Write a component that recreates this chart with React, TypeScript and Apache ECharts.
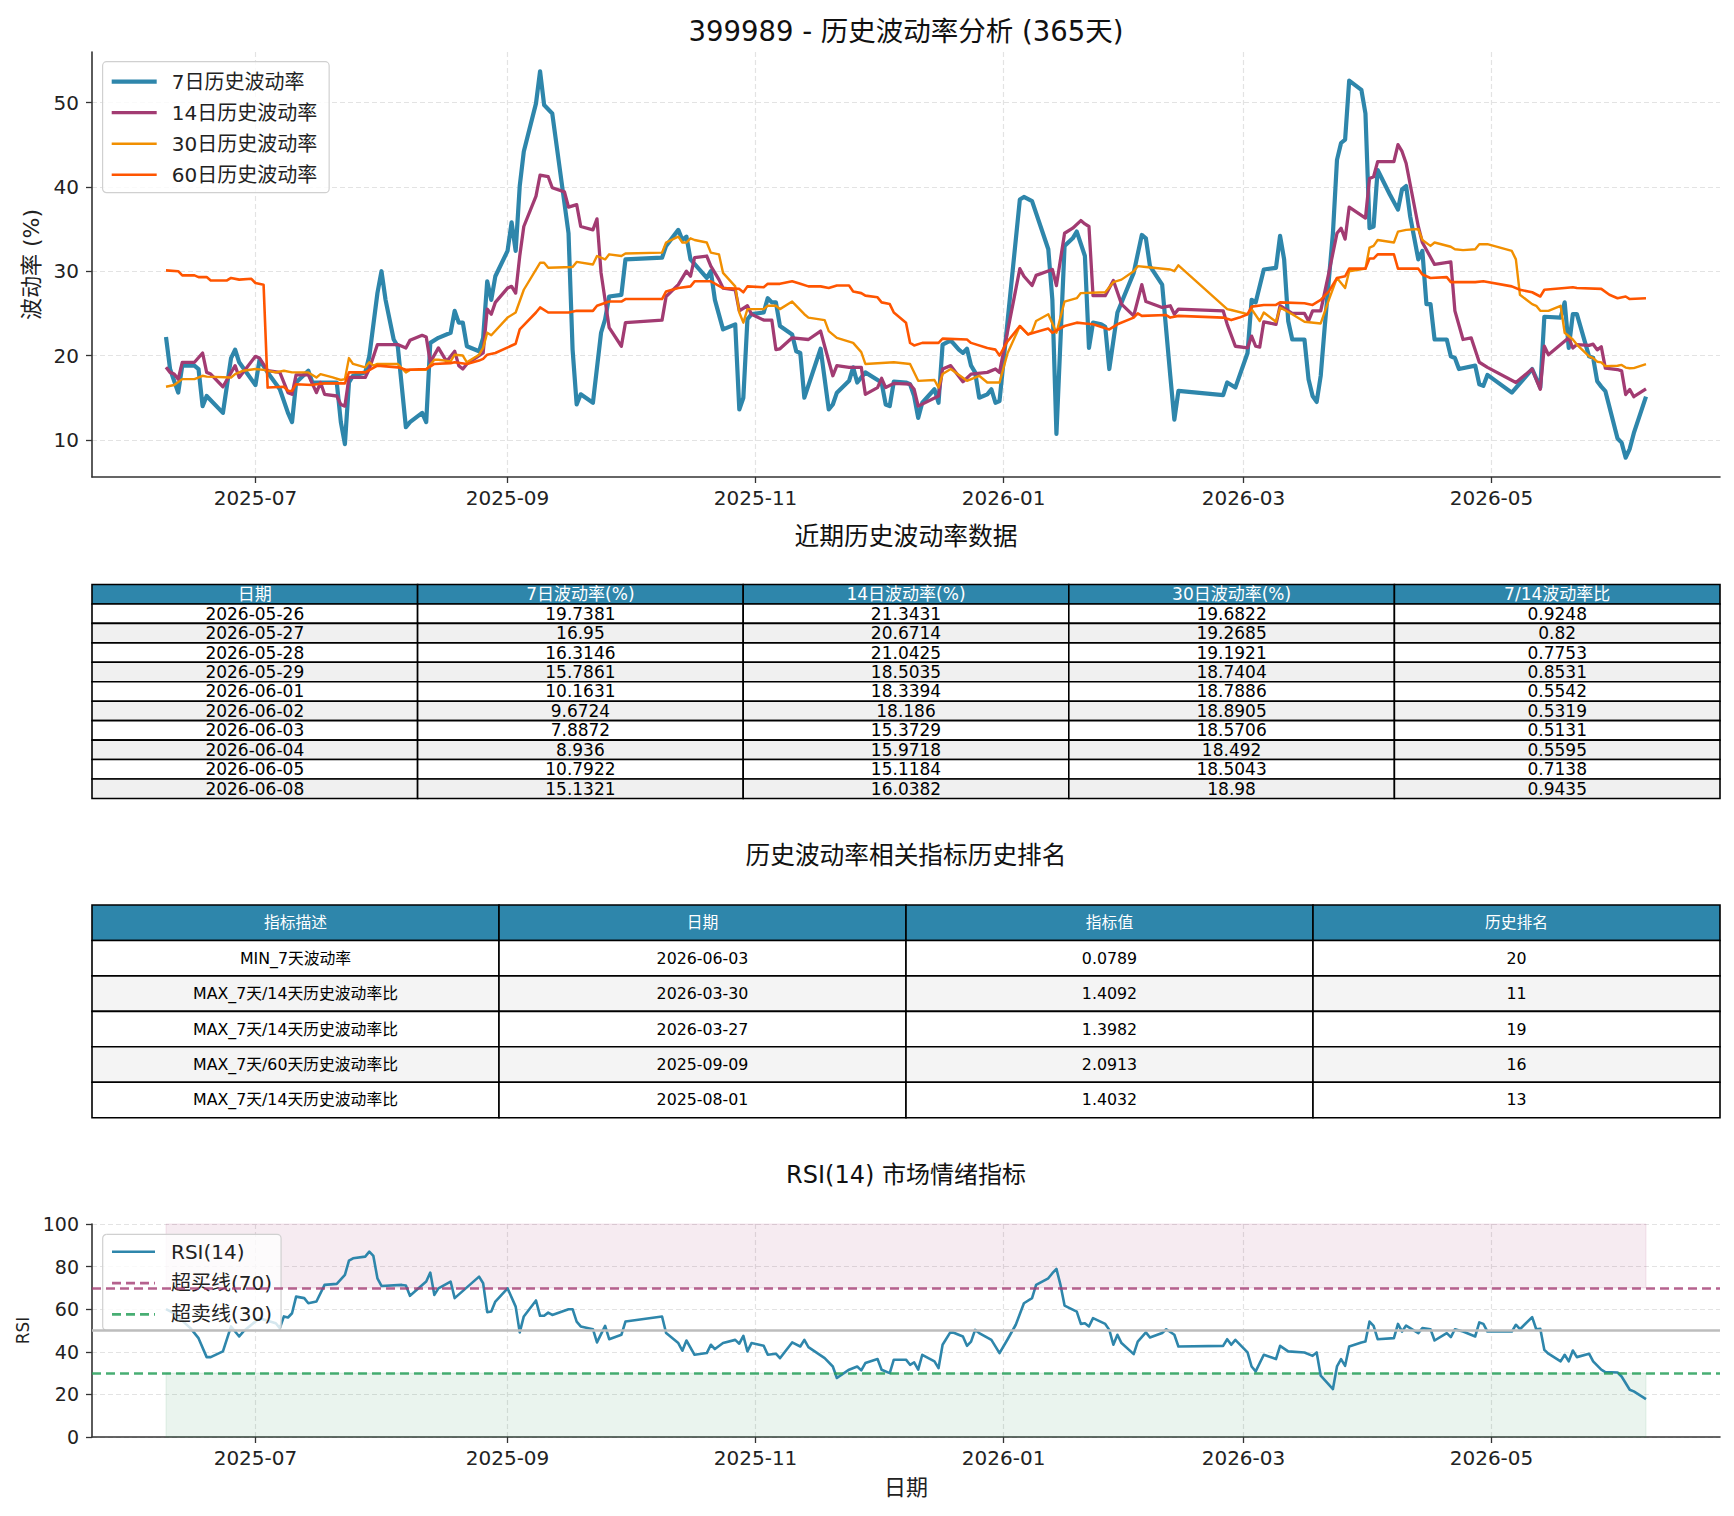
import React, { useEffect, useRef } from 'react';
import * as echarts from 'echarts';

type Pt = [string, number];

const FONT = "'DejaVu Sans', 'Noto Sans CJK SC', sans-serif";
const PAGE_W = 1734;
const PAGE_H = 1516;

const C_BLUE = '#2E86AB';
const C_PURPLE = '#A23B72';
const C_ORANGE = '#F18F01';
const C_RED = '#FF5500';
const C_AXIS = '#333333';
const C_TEXT = '#222222';

// ---- tick labels ----
const monthTicks = ['2025-07-01', '2025-09-01', '2025-11-01', '2026-01-01', '2026-03-01', '2026-05-01'];
const volTicks = [10, 20, 30, 40, 50];

// ---- recent volatility table ----
const recentHeader = ['日期', '7日波动率(%)', '14日波动率(%)', '30日波动率(%)', '7/14波动率比'];
const recentDates = ['2026-05-26', '2026-05-27', '2026-05-28', '2026-05-29', '2026-06-01', '2026-06-02', '2026-06-03', '2026-06-04', '2026-06-05', '2026-06-08'];
const recentVol7 = [19.7381, 16.95, 16.3146, 15.7861, 10.1631, 9.6724, 7.8872, 8.936, 10.7922, 15.1321];
const recentVol14 = [21.3431, 20.6714, 21.0425, 18.5035, 18.3394, 18.186, 15.3729, 15.9718, 15.1184, 16.0382];
const recentVol30 = [19.6822, 19.2685, 19.1921, 18.7404, 18.7886, 18.8905, 18.5706, 18.492, 18.5043, 18.98];
const recentRatio = [0.9248, 0.82, 0.7753, 0.8531, 0.5542, 0.5319, 0.5131, 0.5595, 0.7138, 0.9435];

// ---- ranking table ----
const rankHeader = ['指标描述', '日期', '指标值', '历史排名'];
const rankDesc = ['MIN_7天波动率', 'MAX_7天/14天历史波动率比', 'MAX_7天/14天历史波动率比', 'MAX_7天/60天历史波动率比', 'MAX_7天/14天历史波动率比'];
const rankDates = ['2026-06-03', '2026-03-30', '2026-03-27', '2025-09-09', '2025-08-01'];
const rankValues = [0.0789, 1.4092, 1.3982, 2.0913, 1.4032];
const rankPositions = [20, 11, 19, 16, 13];

// ---- 7-day volatility (before the recent table window) ----
const vol7Early: Pt[] = [
  ['2025-06-09', 22.2], ['2025-06-10', 18.4], ['2025-06-12', 15.6], ['2025-06-13', 18.8], ['2025-06-16', 18.8],
  ['2025-06-17', 18.4], ['2025-06-18', 14.0], ['2025-06-19', 15.2], ['2025-06-23', 13.2], ['2025-06-25', 19.7],
  ['2025-06-26', 20.7], ['2025-06-27', 19.2], ['2025-07-01', 16.5], ['2025-07-02', 19.5], ['2025-07-04', 18.0],
  ['2025-07-07', 16.0], ['2025-07-09', 13.2], ['2025-07-10', 12.1], ['2025-07-11', 16.8], ['2025-07-14', 18.2],
  ['2025-07-15', 16.8], ['2025-07-21', 16.8], ['2025-07-22', 12.1], ['2025-07-23', 9.5], ['2025-07-24', 16.8],
  ['2025-07-25', 17.6], ['2025-07-28', 18.0], ['2025-07-29', 19.9], ['2025-07-31', 27.4], ['2025-08-01', 30.0],
  ['2025-08-02', 26.6], ['2025-08-04', 21.9], ['2025-08-05', 21.1], ['2025-08-07', 11.5], ['2025-08-08', 12.1],
  ['2025-08-11', 13.2], ['2025-08-12', 12.1], ['2025-08-13', 21.5], ['2025-08-15', 22.1], ['2025-08-18', 22.7],
  ['2025-08-19', 25.3], ['2025-08-20', 23.9], ['2025-08-21', 23.9], ['2025-08-22', 21.1], ['2025-08-25', 20.5],
  ['2025-08-26', 22.1], ['2025-08-27', 28.8], ['2025-08-28', 26.6], ['2025-08-29', 29.4], ['2025-09-01', 32.4],
  ['2025-09-02', 35.8], ['2025-09-03', 32.4], ['2025-09-04', 40.1], ['2025-09-05', 44.2], ['2025-09-08', 49.9],
  ['2025-09-09', 53.7], ['2025-09-10', 49.7], ['2025-09-12', 48.7], ['2025-09-16', 34.5], ['2025-09-17', 20.7],
  ['2025-09-18', 14.2], ['2025-09-19', 15.4], ['2025-09-22', 14.4], ['2025-09-24', 22.7], ['2025-09-25', 24.3],
  ['2025-09-26', 27.0], ['2025-09-29', 27.2], ['2025-09-30', 31.4], ['2025-10-09', 31.6], ['2025-10-10', 33.0],
  ['2025-10-13', 34.9], ['2025-10-14', 33.7], ['2025-10-15', 34.1], ['2025-10-16', 31.4], ['2025-10-20', 29.2],
  ['2025-10-21', 30.0], ['2025-10-22', 26.6], ['2025-10-24', 23.1], ['2025-10-27', 23.7], ['2025-10-28', 13.6],
  ['2025-10-29', 15.0], ['2025-10-30', 24.3], ['2025-10-31', 24.9], ['2025-11-03', 25.1], ['2025-11-04', 26.8],
  ['2025-11-05', 26.3], ['2025-11-06', 26.3], ['2025-11-07', 23.5], ['2025-11-10', 22.5], ['2025-11-11', 20.5],
  ['2025-11-12', 20.3], ['2025-11-13', 15.0], ['2025-11-17', 20.8], ['2025-11-19', 13.6], ['2025-11-20', 14.2],
  ['2025-11-21', 15.6], ['2025-11-24', 17.0], ['2025-11-25', 18.6], ['2025-11-26', 16.8], ['2025-11-28', 18.0],
  ['2025-12-02', 16.8], ['2025-12-03', 14.2], ['2025-12-04', 14.0], ['2025-12-05', 16.9], ['2025-12-08', 16.8],
  ['2025-12-09', 16.6], ['2025-12-10', 15.2], ['2025-12-11', 12.6], ['2025-12-12', 14.4], ['2025-12-15', 16.0],
  ['2025-12-16', 14.4], ['2025-12-17', 21.3], ['2025-12-19', 21.8], ['2025-12-21', 20.7], ['2025-12-22', 20.3],
  ['2025-12-23', 20.8], ['2025-12-24', 18.8], ['2025-12-25', 18.0], ['2025-12-26', 15.0], ['2025-12-28', 15.4],
  ['2025-12-29', 16.0], ['2025-12-30', 14.4], ['2025-12-31', 14.6], ['2026-01-05', 38.5], ['2026-01-06', 38.8],
  ['2026-01-08', 38.3], ['2026-01-12', 32.6], ['2026-01-13', 26.6], ['2026-01-14', 10.7], ['2026-01-16', 33.0],
  ['2026-01-18', 33.9], ['2026-01-19', 34.7], ['2026-01-21', 31.8], ['2026-01-22', 20.9], ['2026-01-23', 23.9],
  ['2026-01-25', 23.7], ['2026-01-26', 23.4], ['2026-01-27', 18.4], ['2026-01-29', 25.1], ['2026-02-02', 29.8],
  ['2026-02-04', 34.3], ['2026-02-05', 33.9], ['2026-02-06', 30.6], ['2026-02-09', 28.4], ['2026-02-11', 17.6],
  ['2026-02-12', 12.4], ['2026-02-13', 15.8], ['2026-02-24', 15.3], ['2026-02-25', 16.8], ['2026-02-27', 16.2],
  ['2026-03-02', 20.3], ['2026-03-03', 26.6], ['2026-03-04', 26.3], ['2026-03-06', 30.2], ['2026-03-09', 30.4],
  ['2026-03-10', 34.2], ['2026-03-11', 31.4], ['2026-03-12', 24.1], ['2026-03-13', 21.9], ['2026-03-16', 21.9],
  ['2026-03-17', 17.2], ['2026-03-18', 15.2], ['2026-03-19', 14.5], ['2026-03-20', 17.6], ['2026-03-21', 23.5],
  ['2026-03-23', 34.5], ['2026-03-24', 43.2], ['2026-03-25', 45.2], ['2026-03-26', 45.6], ['2026-03-27', 52.6],
  ['2026-03-30', 51.5], ['2026-03-31', 48.7], ['2026-04-01', 35.1], ['2026-04-02', 35.3], ['2026-04-03', 42.0],
  ['2026-04-06', 39.1], ['2026-04-08', 37.3], ['2026-04-09', 39.7], ['2026-04-10', 40.1], ['2026-04-11', 36.5],
  ['2026-04-13', 31.4], ['2026-04-14', 32.4], ['2026-04-15', 26.1], ['2026-04-16', 26.1], ['2026-04-17', 21.9],
  ['2026-04-20', 21.9], ['2026-04-21', 19.9], ['2026-04-22', 19.7], ['2026-04-23', 18.4], ['2026-04-27', 18.8],
  ['2026-04-28', 16.6], ['2026-04-29', 16.4], ['2026-04-30', 17.7], ['2026-05-06', 15.6], ['2026-05-11', 18.4],
  ['2026-05-13', 16.2], ['2026-05-14', 24.6], ['2026-05-18', 24.5], ['2026-05-19', 26.3], ['2026-05-20', 20.9],
  ['2026-05-21', 24.9], ['2026-05-22', 24.9], ['2026-05-25', 19.9],
];

// ---- 14-day volatility ----
const vol14Early: Pt[] = [
  ['2025-06-09', 18.6], ['2025-06-10', 18.0], ['2025-06-11', 17.8], ['2025-06-12', 17.2], ['2025-06-13', 19.2],
  ['2025-06-16', 19.2], ['2025-06-18', 20.3], ['2025-06-19', 18.0], ['2025-06-20', 17.8], ['2025-06-23', 16.3],
  ['2025-06-26', 18.8], ['2025-06-27', 17.4], ['2025-07-01', 19.9], ['2025-07-02', 19.7], ['2025-07-04', 18.2],
  ['2025-07-07', 18.0], ['2025-07-09', 15.6], ['2025-07-10', 15.4], ['2025-07-11', 17.7], ['2025-07-14', 17.7],
  ['2025-07-16', 15.6], ['2025-07-17', 16.8], ['2025-07-18', 15.4], ['2025-07-21', 15.2], ['2025-07-22', 14.2],
  ['2025-07-23', 14.0], ['2025-07-24', 17.4], ['2025-07-28', 17.4], ['2025-07-29', 18.4], ['2025-07-31', 21.3],
  ['2025-08-05', 21.3], ['2025-08-07', 20.9], ['2025-08-08', 21.8], ['2025-08-11', 22.4], ['2025-08-12', 22.2],
  ['2025-08-13', 19.2], ['2025-08-15', 20.9], ['2025-08-17', 19.3], ['2025-08-19', 20.5], ['2025-08-20', 18.8],
  ['2025-08-21', 18.4], ['2025-08-22', 19.0], ['2025-08-26', 20.3], ['2025-08-27', 25.5], ['2025-08-28', 24.9],
  ['2025-08-29', 26.3], ['2025-09-01', 28.0], ['2025-09-02', 28.2], ['2025-09-03', 27.4], ['2025-09-04', 31.8],
  ['2025-09-05', 35.3], ['2025-09-08', 38.9], ['2025-09-09', 41.4], ['2025-09-11', 41.2], ['2025-09-12', 39.9],
  ['2025-09-15', 39.4], ['2025-09-16', 37.6], ['2025-09-18', 37.9], ['2025-09-19', 35.3], ['2025-09-22', 34.9],
  ['2025-09-23', 36.2], ['2025-09-24', 29.8], ['2025-09-26', 23.3], ['2025-09-29', 21.1], ['2025-09-30', 23.9],
  ['2025-10-09', 24.2], ['2025-10-10', 27.0], ['2025-10-13', 28.4], ['2025-10-15', 30.0], ['2025-10-16', 29.4],
  ['2025-10-17', 31.6], ['2025-10-20', 31.8], ['2025-10-21', 30.6], ['2025-10-23', 29.0], ['2025-10-24', 28.0],
  ['2025-10-27', 27.8], ['2025-10-28', 25.3], ['2025-10-30', 25.9], ['2025-10-31', 24.9], ['2025-11-03', 24.2],
  ['2025-11-05', 24.2], ['2025-11-06', 20.7], ['2025-11-07', 20.8], ['2025-11-10', 22.1], ['2025-11-14', 21.9],
  ['2025-11-17', 22.9], ['2025-11-18', 21.1], ['2025-11-20', 17.6], ['2025-11-21', 18.8], ['2025-11-24', 18.6],
  ['2025-11-27', 18.6], ['2025-11-28', 15.4], ['2025-12-01', 16.2], ['2025-12-02', 17.3], ['2025-12-03', 16.2],
  ['2025-12-05', 16.7], ['2025-12-09', 16.6], ['2025-12-10', 16.0], ['2025-12-11', 14.0], ['2025-12-16', 15.2],
  ['2025-12-17', 18.4], ['2025-12-19', 18.8], ['2025-12-22', 16.9], ['2025-12-24', 17.8], ['2025-12-28', 18.0],
  ['2025-12-30', 18.4], ['2025-12-31', 18.0], ['2026-01-05', 30.3], ['2026-01-06', 29.4], ['2026-01-08', 28.3],
  ['2026-01-09', 29.5], ['2026-01-13', 30.2], ['2026-01-14', 28.3], ['2026-01-16', 34.5], ['2026-01-18', 35.1],
  ['2026-01-20', 36.0], ['2026-01-21', 35.6], ['2026-01-22', 35.3], ['2026-01-23', 27.1], ['2026-01-26', 27.1],
  ['2026-01-28', 28.9], ['2026-01-30', 26.1], ['2026-02-02', 24.7], ['2026-02-04', 28.4], ['2026-02-05', 26.4],
  ['2026-02-09', 25.7], ['2026-02-11', 25.9], ['2026-02-12', 24.9], ['2026-02-13', 25.5], ['2026-02-24', 25.3],
  ['2026-02-25', 23.7], ['2026-02-27', 21.1], ['2026-03-02', 20.9], ['2026-03-03', 22.3], ['2026-03-04', 21.1],
  ['2026-03-05', 21.0], ['2026-03-06', 24.0], ['2026-03-09', 23.7], ['2026-03-10', 25.9], ['2026-03-13', 25.0],
  ['2026-03-16', 25.0], ['2026-03-17', 24.1], ['2026-03-18', 25.3], ['2026-03-20', 25.3], ['2026-03-22', 29.8],
  ['2026-03-24', 34.5], ['2026-03-25', 35.1], ['2026-03-26', 33.8], ['2026-03-27', 37.6], ['2026-03-31', 36.3],
  ['2026-04-01', 41.0], ['2026-04-02', 41.2], ['2026-04-03', 43.0], ['2026-04-07', 43.0], ['2026-04-08', 45.0],
  ['2026-04-09', 44.2], ['2026-04-10', 42.8], ['2026-04-13', 35.3], ['2026-04-14', 33.4], ['2026-04-17', 30.8],
  ['2026-04-21', 31.1], ['2026-04-22', 25.3], ['2026-04-24', 21.9], ['2026-04-26', 22.1], ['2026-04-28', 19.2],
  ['2026-04-30', 18.6], ['2026-05-07', 16.8], ['2026-05-11', 18.4], ['2026-05-13', 16.0], ['2026-05-14', 21.1],
  ['2026-05-15', 20.1], ['2026-05-20', 22.1], ['2026-05-21', 20.9], ['2026-05-22', 21.3], ['2026-05-25', 21.2],
];

// ---- 30-day volatility ----
const vol30Early: Pt[] = [
  ['2025-06-09', 16.3], ['2025-06-11', 16.5], ['2025-06-13', 17.2], ['2025-06-16', 17.2], ['2025-06-18', 17.6],
  ['2025-06-19', 17.5], ['2025-06-25', 17.4], ['2025-06-26', 17.8], ['2025-06-28', 18.2], ['2025-07-01', 18.4],
  ['2025-07-03', 18.3], ['2025-07-06', 18.0], ['2025-07-08', 18.2], ['2025-07-10', 18.0], ['2025-07-14', 18.0],
  ['2025-07-16', 17.4], ['2025-07-17', 17.8], ['2025-07-20', 17.4], ['2025-07-22', 17.1], ['2025-07-23', 17.2],
  ['2025-07-24', 19.7], ['2025-07-25', 19.0], ['2025-07-28', 18.6], ['2025-07-29', 19.2], ['2025-07-30', 18.8],
  ['2025-07-31', 19.0], ['2025-08-05', 19.0], ['2025-08-07', 18.0], ['2025-08-08', 18.3], ['2025-08-12', 18.3],
  ['2025-08-14', 19.5], ['2025-08-15', 19.5], ['2025-08-18', 19.3], ['2025-08-19', 20.1], ['2025-08-21', 20.0],
  ['2025-08-22', 19.2], ['2025-08-25', 20.1], ['2025-08-26', 20.9], ['2025-08-27', 22.7], ['2025-08-28', 22.4],
  ['2025-09-01', 24.5], ['2025-09-03', 25.1], ['2025-09-05', 27.8], ['2025-09-09', 31.0], ['2025-09-10', 31.0],
  ['2025-09-11', 30.4], ['2025-09-17', 30.5], ['2025-09-18', 31.1], ['2025-09-22', 30.8], ['2025-09-23', 31.8],
  ['2025-09-25', 31.4], ['2025-09-26', 32.0], ['2025-09-29', 31.8], ['2025-09-30', 32.1], ['2025-10-09', 32.2],
  ['2025-10-10', 33.4], ['2025-10-13', 34.1], ['2025-10-14', 33.4], ['2025-10-15', 33.4], ['2025-10-16', 33.9],
  ['2025-10-17', 33.7], ['2025-10-20', 33.4], ['2025-10-21', 32.2], ['2025-10-23', 32.0], ['2025-10-24', 29.8],
  ['2025-10-27', 28.2], ['2025-10-28', 25.1], ['2025-10-29', 23.9], ['2025-10-30', 25.5], ['2025-11-03', 25.5],
  ['2025-11-04', 25.9], ['2025-11-06', 25.9], ['2025-11-07', 25.5], ['2025-11-10', 26.4], ['2025-11-13', 24.9],
  ['2025-11-14', 24.5], ['2025-11-18', 24.2], ['2025-11-19', 22.9], ['2025-11-21', 22.1], ['2025-11-25', 21.5],
  ['2025-11-27', 20.4], ['2025-11-28', 19.0], ['2025-12-05', 19.2], ['2025-12-09', 19.0], ['2025-12-11', 17.0],
  ['2025-12-15', 17.1], ['2025-12-16', 16.2], ['2025-12-17', 17.8], ['2025-12-19', 18.4], ['2025-12-23', 17.0],
  ['2025-12-26', 17.6], ['2025-12-28', 16.8], ['2025-12-31', 16.8], ['2026-01-02', 20.3], ['2026-01-05', 23.5],
  ['2026-01-07', 22.5], ['2026-01-08', 22.8], ['2026-01-09', 24.1], ['2026-01-12', 24.9], ['2026-01-14', 22.7],
  ['2026-01-16', 26.4], ['2026-01-19', 26.8], ['2026-01-20', 27.4], ['2026-01-26', 27.5], ['2026-01-28', 28.7],
  ['2026-01-30', 29.0], ['2026-02-02', 30.0], ['2026-02-03', 30.6], ['2026-02-05', 30.5], ['2026-02-11', 30.2],
  ['2026-02-12', 30.0], ['2026-02-13', 30.7], ['2026-02-25', 25.5], ['2026-02-26', 25.4], ['2026-03-02', 24.9],
  ['2026-03-03', 25.5], ['2026-03-05', 24.1], ['2026-03-06', 25.1], ['2026-03-09', 24.0], ['2026-03-10', 25.7],
  ['2026-03-13', 24.9], ['2026-03-16', 24.0], ['2026-03-20', 23.8], ['2026-03-22', 26.6], ['2026-03-24', 29.2],
  ['2026-03-26', 28.0], ['2026-03-27', 30.0], ['2026-03-31', 30.3], ['2026-04-01', 32.8], ['2026-04-02', 33.0],
  ['2026-04-03', 33.7], ['2026-04-07', 33.4], ['2026-04-08', 34.7], ['2026-04-10', 34.9], ['2026-04-13', 35.0],
  ['2026-04-14', 33.7], ['2026-04-16', 33.0], ['2026-04-17', 33.4], ['2026-04-21', 32.9], ['2026-04-22', 32.6],
  ['2026-04-24', 32.5], ['2026-04-27', 32.6], ['2026-04-28', 33.2], ['2026-04-30', 33.2], ['2026-05-06', 32.4],
  ['2026-05-07', 31.4], ['2026-05-08', 27.2], ['2026-05-11', 26.1], ['2026-05-12', 25.9], ['2026-05-13', 25.3],
  ['2026-05-15', 25.3], ['2026-05-18', 25.9], ['2026-05-19', 22.7], ['2026-05-21', 21.9], ['2026-05-22', 21.3],
  ['2026-05-25', 19.9],
];

// ---- 60-day volatility ----
const vol60: Pt[] = [
  ['2025-06-09', 30.1], ['2025-06-12', 30.0], ['2025-06-13', 29.5], ['2025-06-16', 29.5], ['2025-06-17', 29.3],
  ['2025-06-19', 29.3], ['2025-06-20', 28.9], ['2025-06-24', 28.9], ['2025-06-25', 29.2], ['2025-06-27', 29.0],
  ['2025-06-30', 29.1], ['2025-07-01', 28.6], ['2025-07-03', 28.4], ['2025-07-04', 16.2], ['2025-07-08', 16.3],
  ['2025-07-09', 15.8], ['2025-07-10', 15.8], ['2025-07-11', 16.6], ['2025-07-15', 16.5], ['2025-07-16', 16.6],
  ['2025-07-18', 16.7], ['2025-07-23', 16.7], ['2025-07-24', 18.0], ['2025-07-28', 18.0], ['2025-07-31', 18.8],
  ['2025-08-05', 18.6], ['2025-08-07', 18.3], ['2025-08-12', 18.4], ['2025-08-14', 19.0], ['2025-08-18', 19.1],
  ['2025-08-19', 19.2], ['2025-08-22', 19.0], ['2025-08-25', 19.4], ['2025-08-26', 19.6], ['2025-08-27', 20.1],
  ['2025-08-29', 20.3], ['2025-09-03', 21.4], ['2025-09-04', 23.1], ['2025-09-08', 25.1], ['2025-09-09', 25.7],
  ['2025-09-11', 25.1], ['2025-09-16', 25.1], ['2025-09-18', 25.3], ['2025-09-22', 25.3], ['2025-09-23', 25.9],
  ['2025-09-26', 26.4], ['2025-09-29', 26.4], ['2025-09-30', 26.7], ['2025-10-09', 26.7], ['2025-10-10', 27.6],
  ['2025-10-13', 28.0], ['2025-10-16', 28.2], ['2025-10-17', 28.8], ['2025-10-21', 28.8], ['2025-10-24', 28.0],
  ['2025-10-28', 27.9], ['2025-10-29', 27.5], ['2025-10-30', 28.2], ['2025-11-03', 28.1], ['2025-11-04', 28.5],
  ['2025-11-07', 28.5], ['2025-11-10', 28.8], ['2025-11-12', 28.5], ['2025-11-14', 28.2], ['2025-11-17', 28.2],
  ['2025-11-19', 28.0], ['2025-11-21', 28.3], ['2025-11-24', 28.3], ['2025-11-25', 27.6], ['2025-11-27', 27.4],
  ['2025-11-28', 27.1], ['2025-12-01', 26.9], ['2025-12-02', 26.3], ['2025-12-04', 26.1], ['2025-12-05', 25.1],
  ['2025-12-08', 23.9], ['2025-12-09', 21.5], ['2025-12-10', 21.2], ['2025-12-12', 21.5], ['2025-12-16', 21.5],
  ['2025-12-17', 22.0], ['2025-12-23', 21.9], ['2025-12-24', 21.5], ['2025-12-28', 20.9], ['2025-12-30', 20.7],
  ['2025-12-31', 20.0], ['2026-01-02', 21.7], ['2026-01-05', 23.5], ['2026-01-07', 22.5], ['2026-01-09', 22.8],
  ['2026-01-12', 23.2], ['2026-01-13', 22.7], ['2026-01-16', 23.5], ['2026-01-19', 23.9], ['2026-01-21', 23.8],
  ['2026-01-23', 23.7], ['2026-01-27', 23.1], ['2026-01-29', 23.7], ['2026-02-02', 24.5], ['2026-02-03', 25.0],
  ['2026-02-04', 24.7], ['2026-02-10', 24.8], ['2026-02-11', 24.5], ['2026-02-13', 24.7], ['2026-02-24', 24.5],
  ['2026-02-26', 24.2], ['2026-02-28', 24.5], ['2026-03-02', 24.9], ['2026-03-03', 25.8], ['2026-03-06', 26.0],
  ['2026-03-09', 26.0], ['2026-03-10', 26.3], ['2026-03-16', 26.2], ['2026-03-18', 26.0], ['2026-03-20', 26.6],
  ['2026-03-22', 27.6], ['2026-03-24', 29.2], ['2026-03-26', 29.4], ['2026-03-27', 30.3], ['2026-03-31', 30.3],
  ['2026-04-01', 31.5], ['2026-04-02', 31.5], ['2026-04-03', 32.0], ['2026-04-07', 32.0], ['2026-04-08', 30.3],
  ['2026-04-13', 30.3], ['2026-04-14', 29.6], ['2026-04-16', 29.2], ['2026-04-20', 29.3], ['2026-04-21', 28.7],
  ['2026-04-27', 28.7], ['2026-04-29', 28.8], ['2026-05-06', 28.2], ['2026-05-08', 27.8], ['2026-05-11', 27.5],
  ['2026-05-13', 27.0], ['2026-05-14', 27.8], ['2026-05-19', 28.0], ['2026-05-21', 28.1], ['2026-05-22', 28.0],
  ['2026-05-28', 27.9], ['2026-05-30', 27.2], ['2026-06-01', 26.8], ['2026-06-03', 27.0], ['2026-06-04', 26.7],
  ['2026-06-08', 26.8],
];

// ---- RSI(14) ----
const rsi14: Pt[] = [
  ['2025-06-09', 60.0], ['2025-06-11', 58.1], ['2025-06-15', 51.1], ['2025-06-17', 46.4], ['2025-06-19', 37.5],
  ['2025-06-20', 37.5], ['2025-06-23', 40.2], ['2025-06-25', 51.9], ['2025-06-27', 47.2], ['2025-06-28', 49.5],
  ['2025-07-02', 55.8], ['2025-07-06', 53.4], ['2025-07-07', 51.1], ['2025-07-08', 56.6], ['2025-07-09', 56.1],
  ['2025-07-10', 58.1], ['2025-07-11', 65.9], ['2025-07-13', 65.2], ['2025-07-14', 62.8], ['2025-07-16', 63.6],
  ['2025-07-18', 71.4], ['2025-07-21', 71.9], ['2025-07-23', 76.1], ['2025-07-24', 82.8], ['2025-07-25', 83.9],
  ['2025-07-28', 84.7], ['2025-07-29', 87.0], ['2025-07-30', 85.0], ['2025-07-31', 74.5], ['2025-08-01', 70.9],
  ['2025-08-06', 71.4], ['2025-08-07', 71.1], ['2025-08-08', 66.3], ['2025-08-12', 73.0], ['2025-08-13', 77.2],
  ['2025-08-14', 66.7], ['2025-08-15', 69.8], ['2025-08-18', 73.0], ['2025-08-19', 65.2], ['2025-08-25', 75.3],
  ['2025-08-26', 72.2], ['2025-08-27', 58.6], ['2025-08-28', 58.9], ['2025-08-29', 63.6], ['2025-09-01', 69.8],
  ['2025-09-03', 61.2], ['2025-09-04', 49.1], ['2025-09-05', 56.6], ['2025-09-08', 64.1], ['2025-09-09', 56.9],
  ['2025-09-10', 56.9], ['2025-09-11', 58.4], ['2025-09-12', 57.3], ['2025-09-16', 60.0], ['2025-09-17', 60.0],
  ['2025-09-18', 54.2], ['2025-09-19', 51.9], ['2025-09-22', 50.6], ['2025-09-23', 44.4], ['2025-09-25', 52.2],
  ['2025-09-26', 45.9], ['2025-09-29', 48.0], ['2025-09-30', 54.2], ['2025-10-09', 56.6], ['2025-10-10', 48.8],
  ['2025-10-13', 44.1], ['2025-10-14', 40.5], ['2025-10-15', 45.3], ['2025-10-17', 38.6], ['2025-10-20', 39.4],
  ['2025-10-21', 43.3], ['2025-10-22', 41.3], ['2025-10-24', 44.1], ['2025-10-27', 45.6], ['2025-10-28', 43.8],
  ['2025-10-29', 47.5], ['2025-10-30', 40.2], ['2025-10-31', 44.1], ['2025-11-03', 42.8], ['2025-11-04', 38.6],
  ['2025-11-06', 39.1], ['2025-11-07', 37.0], ['2025-11-10', 44.4], ['2025-11-12', 42.5], ['2025-11-13', 45.6],
  ['2025-11-14', 42.2], ['2025-11-18', 37.0], ['2025-11-20', 33.1], ['2025-11-21', 27.7], ['2025-11-24', 31.6],
  ['2025-11-26', 33.1], ['2025-11-27', 31.3], ['2025-11-28', 34.7], ['2025-12-01', 36.6], ['2025-12-02', 31.6],
  ['2025-12-04', 30.0], ['2025-12-05', 36.3], ['2025-12-08', 36.3], ['2025-12-09', 33.9], ['2025-12-10', 35.0],
  ['2025-12-11', 31.6], ['2025-12-12', 38.6], ['2025-12-15', 35.5], ['2025-12-16', 32.3], ['2025-12-17', 43.3],
  ['2025-12-19', 49.5], ['2025-12-22', 47.2], ['2025-12-23', 42.8], ['2025-12-24', 44.8], ['2025-12-25', 50.3],
  ['2025-12-26', 48.8], ['2025-12-29', 45.6], ['2025-12-31', 39.4], ['2026-01-02', 45.9], ['2026-01-04', 52.7],
  ['2026-01-06', 62.8], ['2026-01-08', 65.2], ['2026-01-09', 71.4], ['2026-01-12', 74.5], ['2026-01-13', 76.9],
  ['2026-01-14', 78.9], ['2026-01-15', 71.4], ['2026-01-16', 61.7], ['2026-01-19', 58.9], ['2026-01-20', 53.1],
  ['2026-01-21', 53.4], ['2026-01-22', 51.9], ['2026-01-23', 55.8], ['2026-01-26', 53.1], ['2026-01-27', 50.3],
  ['2026-01-28', 43.3], ['2026-01-29', 48.0], ['2026-01-30', 44.1], ['2026-02-02', 38.9], ['2026-02-03', 44.8],
  ['2026-02-05', 49.1], ['2026-02-06', 46.7], ['2026-02-09', 48.8], ['2026-02-10', 50.6], ['2026-02-12', 48.0],
  ['2026-02-13', 42.5], ['2026-02-24', 42.8], ['2026-02-25', 45.9], ['2026-02-26', 43.3], ['2026-02-27', 45.6],
  ['2026-03-02', 39.7], ['2026-03-03', 33.1], ['2026-03-04', 30.8], ['2026-03-06', 38.6], ['2026-03-09', 36.6],
  ['2026-03-10', 42.8], ['2026-03-12', 40.2], ['2026-03-16', 39.7], ['2026-03-18', 38.1], ['2026-03-19', 39.7],
  ['2026-03-20', 28.8], ['2026-03-23', 22.5], ['2026-03-24', 33.1], ['2026-03-25', 36.6], ['2026-03-26', 33.4],
  ['2026-03-27', 42.5], ['2026-03-30', 44.4], ['2026-03-31', 44.8], ['2026-04-01', 54.2], ['2026-04-02', 52.2],
  ['2026-04-03', 45.9], ['2026-04-07', 46.4], ['2026-04-08', 53.1], ['2026-04-09', 49.5], ['2026-04-10', 52.3],
  ['2026-04-13', 48.8], ['2026-04-14', 51.1], ['2026-04-16', 50.6], ['2026-04-17', 45.3], ['2026-04-20', 48.8],
  ['2026-04-21', 46.9], ['2026-04-22', 50.6], ['2026-04-24', 49.5], ['2026-04-27', 47.2], ['2026-04-28', 53.8],
  ['2026-04-29', 53.1], ['2026-04-30', 49.5], ['2026-05-06', 49.5], ['2026-05-07', 52.7], ['2026-05-08', 50.6],
  ['2026-05-11', 56.3], ['2026-05-12', 50.6], ['2026-05-13', 50.8], ['2026-05-14', 40.9], ['2026-05-15', 39.1],
  ['2026-05-18', 35.5], ['2026-05-19', 38.6], ['2026-05-20', 35.5], ['2026-05-21', 40.6], ['2026-05-22', 37.5],
  ['2026-05-25', 39.1], ['2026-05-26', 35.5], ['2026-05-28', 31.6], ['2026-05-29', 30.5], ['2026-06-01', 30.3],
  ['2026-06-02', 28.4], ['2026-06-04', 22.2], ['2026-06-05', 21.4], ['2026-06-08', 17.8],
];

const RSI_OVERBOUGHT = 70;
const RSI_OVERSOLD = 30;
const RSI_MID = 50;

// ---- helpers ----
const toUTC = (s: string) => {
  const [y, m, d] = s.split('-').map(Number);
  return Date.UTC(y, m - 1, d);
};
const toSeries = (pts: Pt[]) => pts.map(([d, v]) => [toUTC(d), v]);
const withRecent = (early: Pt[], recent: number[]): Pt[] => [
  ...early,
  ...recentDates.map((d, i) => [d, recent[i]] as Pt),
];
const fmtMonth = (v: number) => {
  const d = new Date(v);
  return `${d.getUTCFullYear()}-${String(d.getUTCMonth() + 1).padStart(2, '0')}`;
};

const vol7 = withRecent(vol7Early, recentVol7);
const vol14 = withRecent(vol14Early, recentVol14);
const vol30 = withRecent(vol30Early, recentVol30);

// layout
const PLOT_L = 92;
const PLOT_R = 1720;
const TOP_GRID = { top: 52, height: 425 };
const RSI_GRID = { top: 1224, height: 213 };
const CENTER_X = (PLOT_L + PLOT_R) / 2;

function buildTable(top: number, rowH: number, header: string[], rows: string[][], fontSize: number, stripe: string) {
  const els: any[] = [];
  const colW = (PLOT_R - PLOT_L) / header.length;
  [header, ...rows].forEach((row, r) => {
    row.forEach((cell, c) => {
      const x = PLOT_L + c * colW;
      const y = top + r * rowH;
      const head = r === 0;
      els.push({
        type: 'rect',
        silent: true,
        z: 10,
        shape: { x, y, width: colW, height: rowH },
        style: { fill: head ? C_BLUE : r % 2 === 0 ? stripe : '#ffffff', stroke: '#000000', lineWidth: 1.6 },
      });
      els.push({
        type: 'text',
        silent: true,
        z: 11,
        x: x + colW / 2,
        y: y + rowH / 2,
        style: {
          text: cell,
          fill: head ? '#ffffff' : '#000000',
          fontSize,
          fontFamily: FONT,
          align: 'center',
          verticalAlign: 'middle',
          textAlign: 'center',
          textVerticalAlign: 'middle',
        },
      });
    });
  });
  return els;
}

function titleText(text: string, y: number, fontSize: number) {
  return {
    type: 'text',
    silent: true,
    x: CENTER_X,
    y,
    style: {
      text,
      fill: '#111111',
      fontSize,
      fontFamily: FONT,
      align: 'center',
      verticalAlign: 'middle',
      textAlign: 'center',
      textVerticalAlign: 'middle',
    },
  };
}

// legend entries show the line only (no marker in the middle)
const legendCommon = {
  orient: 'vertical',
  selectedMode: false,
  itemHeight: 14,
  backgroundColor: 'rgba(255,255,255,0.8)',
  borderColor: '#d0d0d0',
  borderWidth: 1.2,
  borderRadius: 4,
  itemStyle: { color: 'transparent', borderWidth: 0, opacity: 0 },
  lineStyle: { width: 'inherit', type: 'inherit' },
};

export default function App() {
  const ref = useRef<HTMLDivElement>(null);

  useEffect(() => {
    if (!ref.current) return;
    const chart = echarts.init(ref.current, null, { renderer: 'svg' });

    const allDates = vol7.map((p) => toUTC(p[0]));
    const xFirst = Math.min(...allDates);
    const xLast = Math.max(...allDates);
    const xPad = (xLast - xFirst) * 0.05;
    const xMin = xFirst - xPad;
    const xMax = xLast + xPad;

    const allVals = [...vol7, ...vol14, ...vol30, ...vol60].map((p) => p[1]);
    const vLo = Math.min(...allVals);
    const vHi = Math.max(...allVals);
    const yPad = (vHi - vLo) * 0.05;

    const tickTs = monthTicks.map(toUTC);
    const gridLine = { show: true, lineStyle: { color: '#e3e3e3', width: 1.2, type: [5, 3] } };
    const axisLine = { show: true, onZero: false, lineStyle: { color: C_AXIS, width: 1.6 } };

    // dates are plotted as UTC millisecond values on a value axis
    const dateAxis = (gridIndex: number, name?: string) => ({
      type: 'value',
      gridIndex,
      min: xMin,
      max: xMax,
      scale: true,
      axisLine,
      axisTick: { show: true, length: 6, customValues: tickTs, lineStyle: { color: C_AXIS, width: 1.3 } },
      axisLabel: {
        customValues: tickTs,
        formatter: (v: number) => fmtMonth(v),
        fontSize: 20,
        fontFamily: FONT,
        color: C_TEXT,
        margin: 11,
        showMinLabel: true,
        showMaxLabel: true,
      },
      splitLine: gridLine,
      name: name || '',
      nameLocation: 'middle',
      nameGap: 39,
      nameTextStyle: { fontSize: 22, fontFamily: FONT, color: C_TEXT },
    });

    const lineSeries = (name: string, pts: Pt[], color: string, width: number) => ({
      name,
      type: 'line',
      xAxisIndex: 0,
      yAxisIndex: 0,
      data: toSeries(pts),
      color,
      symbol: 'none',
      showSymbol: false,
      lineStyle: { color, width, join: 'round' },
      emphasis: { disabled: true },
    });

    const rsiStart = toUTC(rsi14[0][0]);
    const rsiEnd = toUTC(rsi14[rsi14.length - 1][0]);

    const recentRows = recentDates.map((d, i) => [
      d,
      String(recentVol7[i]),
      String(recentVol14[i]),
      String(recentVol30[i]),
      String(recentRatio[i]),
    ]);
    const rankRows = rankDesc.map((d, i) => [d, rankDates[i], String(rankValues[i]), String(rankPositions[i])]);

    const option: any = {
      animation: false,
      backgroundColor: '#ffffff',
      textStyle: { fontFamily: FONT },
      grid: [
        { left: PLOT_L, right: PAGE_W - PLOT_R, top: TOP_GRID.top, height: TOP_GRID.height },
        { left: PLOT_L, right: PAGE_W - PLOT_R, top: RSI_GRID.top, height: RSI_GRID.height },
      ],
      xAxis: [dateAxis(0), dateAxis(1, '日期')],
      yAxis: [
        {
          type: 'value',
          gridIndex: 0,
          min: vLo - yPad,
          max: vHi + yPad,
          axisLine,
          axisTick: { show: true, length: 6, customValues: volTicks, lineStyle: { color: C_AXIS, width: 1.3 } },
          axisLabel: { customValues: volTicks, fontSize: 20, fontFamily: FONT, color: C_TEXT, margin: 13 },
          splitLine: gridLine,
          name: '波动率 (%)',
          nameLocation: 'middle',
          nameGap: 50,
          nameTextStyle: { fontSize: 22, fontFamily: FONT, color: C_TEXT },
        },
        {
          type: 'value',
          gridIndex: 1,
          min: 0,
          max: 100,
          interval: 20,
          axisLine,
          axisTick: { show: true, length: 6, lineStyle: { color: C_AXIS, width: 1.3 } },
          axisLabel: { fontSize: 19, fontFamily: FONT, color: C_TEXT, margin: 13 },
          splitLine: gridLine,
          name: 'RSI',
          nameLocation: 'middle',
          nameGap: 61,
          nameTextStyle: { fontSize: 17, fontFamily: FONT, color: C_TEXT },
        },
      ],
      legend: [
        {
          ...legendCommon,
          left: 102.6,
          top: 61.7,
          padding: [9, 12, 7, 7],
          itemGap: 9,
          itemWidth: 45,
          textStyle: { fontSize: 20, lineHeight: 22, fontFamily: FONT, color: C_TEXT, padding: [0, 0, 0, 10] },
          data: ['7日历史波动率', '14日历史波动率', '30日历史波动率', '60日历史波动率'],
        },
        {
          ...legendCommon,
          left: 102.7,
          top: 1234.3,
          padding: [6.5, 9, 5, 8],
          itemGap: 9.3,
          itemWidth: 43,
          textStyle: { fontSize: 20, lineHeight: 22, fontFamily: FONT, color: C_TEXT, padding: [0, 0, 0, 11] },
          data: ['RSI(14)', '超买线(70)', '超卖线(30)'],
        },
      ],
      series: [
        lineSeries('7日历史波动率', vol7, C_BLUE, 4.2),
        lineSeries('14日历史波动率', vol14, C_PURPLE, 3.3),
        lineSeries('30日历史波动率', vol30, C_ORANGE, 2.4),
        lineSeries('60日历史波动率', vol60, C_RED, 2.6),
        {
          // shaded overbought / oversold zones
          name: 'zones',
          type: 'line',
          xAxisIndex: 1,
          yAxisIndex: 1,
          data: [],
          z: 1,
          silent: true,
          markArea: {
            silent: true,
            data: [
              [
                { xAxis: rsiStart, yAxis: RSI_OVERBOUGHT, itemStyle: { color: 'rgba(162,59,114,0.1)', borderColor: 'rgba(162,59,114,0.12)', borderWidth: 1 } },
                { xAxis: rsiEnd, yAxis: 100 },
              ],
              [
                { xAxis: rsiStart, yAxis: 0, itemStyle: { color: 'rgba(46,150,90,0.1)', borderColor: 'rgba(46,150,90,0.12)', borderWidth: 1 } },
                { xAxis: rsiEnd, yAxis: RSI_OVERSOLD },
              ],
            ],
          },
        },
        {
          name: 'RSI(14)',
          type: 'line',
          xAxisIndex: 1,
          yAxisIndex: 1,
          data: toSeries(rsi14),
          color: C_BLUE,
          symbol: 'none',
          showSymbol: false,
          z: 3,
          lineStyle: { color: C_BLUE, width: 2.6, join: 'round' },
          emphasis: { disabled: true },
          markLine: {
            silent: true,
            symbol: ['none', 'none'],
            label: { show: false },
            data: [
              { yAxis: RSI_MID, lineStyle: { color: '#bdbdbd', width: 2.6, type: 'solid' } },
              { yAxis: RSI_OVERBOUGHT, lineStyle: { color: 'rgba(162,59,114,0.8)', width: 2.6, type: [9, 5] } },
              { yAxis: RSI_OVERSOLD, lineStyle: { color: 'rgba(40,160,90,0.85)', width: 2.6, type: [9, 5] } },
            ],
          },
        },
        {
          name: '超买线(70)',
          type: 'line',
          xAxisIndex: 1,
          yAxisIndex: 1,
          data: [],
          color: 'rgba(162,59,114,0.8)',
          symbol: 'none',
          lineStyle: { color: 'rgba(162,59,114,0.8)', width: 2.6, type: [9, 5] },
        },
        {
          name: '超卖线(30)',
          type: 'line',
          xAxisIndex: 1,
          yAxisIndex: 1,
          data: [],
          color: 'rgba(40,160,90,0.85)',
          symbol: 'none',
          lineStyle: { color: 'rgba(40,160,90,0.85)', width: 2.6, type: [9, 5] },
        },
      ],
      graphic: {
        elements: [
          titleText('399989 - 历史波动率分析 (365天)', 31, 27.5),
          titleText('近期历史波动率数据', 536, 24.8),
          titleText('历史波动率相关指标历史排名', 855, 24.7),
          titleText('RSI(14) 市场情绪指标', 1175, 24),
          ...buildTable(584.5, 19.45, recentHeader, recentRows, 17, '#f0f0f0'),
          ...buildTable(905, 35.45, rankHeader, rankRows, 15.8, '#f4f4f4'),
        ],
      },
    };

    chart.setOption(option);
    return () => chart.dispose();
  }, []);

  return (
    <div
      ref={ref}
      style={{ position: 'absolute', left: 0, top: 0, width: PAGE_W, height: PAGE_H, background: '#ffffff' }}
    />
  );
}
